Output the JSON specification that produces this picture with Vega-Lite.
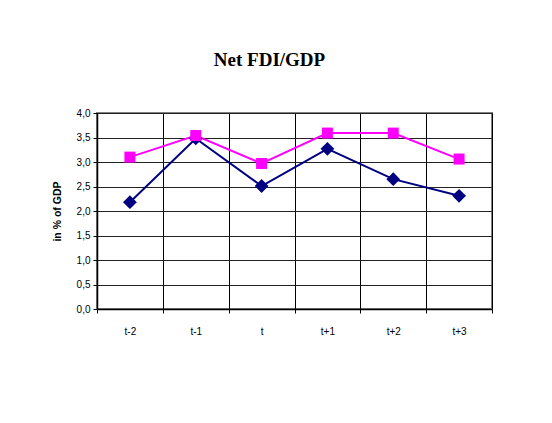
{
  "$schema": "https://vega.github.io/schema/vega-lite/v6.json",
  "width": 395,
  "height": 196,
  "autosize": {"type": "none"},
  "padding": {"left": 97, "top": 113, "right": 60, "bottom": 114},
  "background": "white",
  "title": {
    "text": "Net FDI/GDP",
    "font": "Liberation Serif",
    "fontSize": 19,
    "fontWeight": "bold",
    "color": "black",
    "anchor": "middle",
    "frame": "group",
    "dx": -25,
    "baseline": "alphabetic",
    "offset": 23
  },
  "data": {
    "values": [
      {"period": "t-2", "series": "Series 1", "value": 2.18},
      {"period": "t-1", "series": "Series 1", "value": 3.48},
      {"period": "t", "series": "Series 1", "value": 2.51},
      {"period": "t+1", "series": "Series 1", "value": 3.27},
      {"period": "t+2", "series": "Series 1", "value": 2.65},
      {"period": "t+3", "series": "Series 1", "value": 2.31},
      {"period": "t-2", "series": "Series 2", "value": 3.1},
      {"period": "t-1", "series": "Series 2", "value": 3.54},
      {"period": "t", "series": "Series 2", "value": 2.97},
      {"period": "t+1", "series": "Series 2", "value": 3.59},
      {"period": "t+2", "series": "Series 2", "value": 3.59},
      {"period": "t+3", "series": "Series 2", "value": 3.06}
    ]
  },
  "encoding": {
    "x": {
      "field": "period",
      "type": "nominal",
      "sort": ["t-2", "t-1", "t", "t+1", "t+2", "t+3"],
      "scale": {"type": "band", "paddingInner": 0, "paddingOuter": 0},
      "axis": {
        "title": null,
        "labelAngle": 0,
        "tickBand": "extent",
        "grid": true,
        "gridColor": "#000000",
        "gridWidth": 1,
        "domainColor": "#000000",
        "domainWidth": 1.5,
        "tickColor": "#000000",
        "tickSize": 4,
        "labelPadding": 13,
        "labelFont": "Liberation Sans",
        "labelFontSize": 10,
        "labelColor": "#000000"
      }
    },
    "y": {
      "field": "value",
      "type": "quantitative",
      "scale": {"domain": [0, 4], "nice": false, "zero": true},
      "axis": {
        "title": "in % of GDP",
        "titleFont": "Liberation Sans",
        "titleFontSize": 10.5,
        "titleFontWeight": "bold",
        "titleColor": "#000000",
        "titlePadding": 14,
        "values": [0, 0.5, 1, 1.5, 2, 2.5, 3, 3.5, 4],
        "labelExpr": "replace(format(datum.value, '.1f'), '.', ',')",
        "grid": true,
        "gridColor": "#222222",
        "gridWidth": 1,
        "domainColor": "#000000",
        "domainWidth": 1.5,
        "tickColor": "#000000",
        "tickSize": 4,
        "labelPadding": 3,
        "labelFont": "Liberation Sans",
        "labelFontSize": 10,
        "labelColor": "#000000"
      }
    },
    "color": {
      "field": "series",
      "type": "nominal",
      "scale": {"domain": ["Series 1", "Series 2"], "range": ["#000080", "#FF00FF"]},
      "legend": null
    }
  },
  "layer": [
    {"mark": {"type": "line", "strokeWidth": 2}},
    {
      "mark": {"type": "point", "filled": true, "opacity": 1},
      "encoding": {
        "shape": {
          "field": "series",
          "type": "nominal",
          "scale": {"domain": ["Series 1", "Series 2"], "range": ["diamond", "square"]},
          "legend": null
        },
        "size": {
          "field": "series",
          "type": "nominal",
          "scale": {"domain": ["Series 1", "Series 2"], "range": [190, 121]},
          "legend": null
        }
      }
    }
  ],
  "config": {
    "view": {"stroke": "#808080", "strokeWidth": 2}
  }
}
